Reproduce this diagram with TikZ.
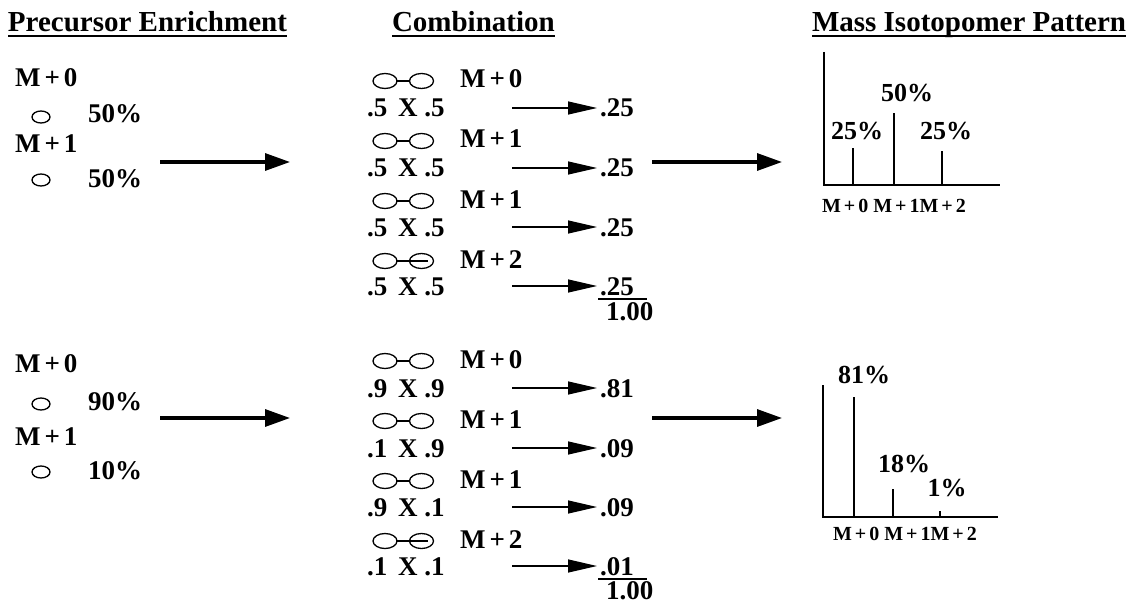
\documentclass[tikz,border=0pt]{standalone}
\usepackage{fontspec}
\setmainfont{Liberation Serif}
\usetikzlibrary{arrows.meta,shapes.geometric}

% "M + n" label with the spacing round the plus sign
\newcommand{\mplus}[1]{M\hspace{0.15em}+\hspace{0.15em}#1}

\begin{document}
\begin{tikzpicture}[x=1pt,y=-1pt,
  every node/.style={inner sep=0pt, outer sep=0pt, font=\bfseries\fontsize{27}{27}\selectfont},
  txt/.style={anchor=base west},
  heading/.style={anchor=base west, font=\bfseries\fontsize{29}{29}\selectfont},
  axlabel/.style={anchor=base west, font=\bfseries\fontsize{20}{20}\selectfont},
  pct/.style={anchor=base, font=\bfseries\fontsize{26}{26}\selectfont},
  atom/.style={shape=ellipse, draw, line width=1.3pt, minimum width=18pt, minimum height=12pt},
  unit/.style={shape=ellipse, draw, line width=1.3pt, minimum width=24pt, minimum height=15pt},
  bond/.style={line width=1.3pt},
  bigarrow/.style={line width=3.2pt, -{Triangle[length=25pt,width=17pt]}},
  smallarrow/.style={line width=1.3pt, -{Triangle[length=29pt,width=13pt]}},
  axis/.style={line width=1.8pt},
  bar/.style={line width=1.5pt},
  sumline/.style={line width=1.5pt},
  uline/.style={line width=2pt}
]
\useasboundingbox (0,0) rectangle (1131,604);

% ---------- headings ----------
\node[heading] (hA) at (8,32) {Precursor Enrichment};
\node[heading] (hB) at (392,32) {Combination};
\node[heading] (hC) at (812,32) {Mass Isotopomer Pattern};
\foreach \h in {hA,hB,hC}
  \draw[uline] ([yshift=-4pt]\h.base west) -- ([yshift=-4pt]\h.base east);

% ---------- precursor enrichment ----------
% upper case: 50 / 50
\node[txt] (pa0) at (15,87) {\mplus{0}};
\node[atom] (pa0e) at (41,117) {};
\node[txt] (pa0p) at (88,123) {50\%};
\node[txt] (pa1) at (15,153) {\mplus{1}};
\node[atom] (pa1e) at (41,180) {};
\node[txt] (pa1p) at (88,187) {50\%};
% lower case: 90 / 10
\node[txt] (pb0) at (15,372) {\mplus{0}};
\node[atom] (pb0e) at (41,404) {};
\node[txt] (pb0p) at (88,410) {90\%};
\node[txt] (pb1) at (15,445) {\mplus{1}};
\node[atom] (pb1e) at (41,472) {};
\node[txt] (pb1p) at (88,479) {10\%};

\coordinate (la1) at (160,162); \coordinate (la2) at (290,162);
\coordinate (lb1) at (160,418); \coordinate (lb2) at (290,418);
\draw[bigarrow] (la1) -- (la2);
\draw[bigarrow] (lb1) -- (lb2);

% ---------- combinations ----------
% prefix, y offset of the block, four factor pairs
\foreach \pre/\dy/\pa/\pb/\pc/\pd/\va/\vb/\vc/\vd in
  {ca/0/{.5}/{.5}/{.5}/{.5}/{.5}/{.5}/{.5}/{.5},
   cb/280/{.9}/{.1}/{.9}/{.1}/{.9}/{.9}/{.1}/{.1}}{
  \foreach \i/\m/\my/\ny/\fa/\fb in
    {1/0/88/117/\pa/\va, 2/1/148/177/\pb/\vb, 3/1/208/236/\pc/\vc, 4/2/268/295/\pd/\vd}{
    \node[unit] (\pre\i l) at (385,\my+\dy-7) {};
    \node[unit] (\pre\i r) at (421.5,\my+\dy-7) {};
    \node[txt] (\pre\i m) at (460,\my+\dy) {\mplus{\m}};
    \node[txt] (\pre\i x) at (367,\ny+\dy) {\fa\hspace{0.4em}X\hspace{0.25em}\fb};
    \coordinate (\pre\i s) at (512,\ny+\dy-9);
    \coordinate (\pre\i t) at (597,\ny+\dy-9);
    \draw[smallarrow] (\pre\i s) -- (\pre\i t);
  }
}
% bonds between the two units
\foreach \n in {ca1,ca2,ca3,cb1,cb2,cb3}
  \draw[bond] (\n l.east) -- (\n r.west);
\foreach \n in {ca4,cb4}
  \draw[bond] (\n l.east) -- ([xshift=6.5pt]\n r.center);

% products
\node[txt] (va1) at (600,117) {.25};
\node[txt] (va2) at (600,177) {.25};
\node[txt] (va3) at (600,236) {.25};
\node[txt] (va4) at (600,295) {.25};
\node[txt] (vb1) at (600,397) {.81};
\node[txt] (vb2) at (600,457) {.09};
\node[txt] (vb3) at (600,516) {.09};
\node[txt] (vb4) at (600,575) {.01};
\coordinate (sa1) at (598,299); \coordinate (sa2) at (647,299);
\coordinate (sb1) at (598,579); \coordinate (sb2) at (647,579);
\draw[sumline] (sa1) -- (sa2);
\draw[sumline] (sb1) -- (sb2);
\node[txt] (ta) at (606,320) {1.00};
\node[txt] (tb) at (606,599) {1.00};

\coordinate (ma1) at (652,162); \coordinate (ma2) at (782,162);
\coordinate (mb1) at (652,418); \coordinate (mb2) at (782,418);
\draw[bigarrow] (ma1) -- (ma2);
\draw[bigarrow] (mb1) -- (mb2);

% ---------- mass isotopomer patterns ----------
% upper pattern
\coordinate (ga0) at (824,185); \coordinate (gay) at (824,52); \coordinate (gax) at (1000,185);
\draw[axis] (gay) -- (ga0) -- (gax);
\coordinate (ga1b) at (853,185); \coordinate (ga1t) at (853,148);
\coordinate (ga2b) at (894,185); \coordinate (ga2t) at (894,113);
\coordinate (ga3b) at (942,185); \coordinate (ga3t) at (942,151);
\draw[bar] (ga1b) -- (ga1t);
\draw[bar] (ga2b) -- (ga2t);
\draw[bar] (ga3b) -- (ga3t);
\node[pct] (ga1p) at (857,140) {25\%};
\node[pct] (ga2p) at (907,102) {50\%};
\node[pct] (ga3p) at (946,140) {25\%};
\node[axlabel] (gal) at (822,212) {\mplus{0} \mplus{1}\mplus{2}};

% lower pattern
\coordinate (gb0) at (823,517); \coordinate (gby) at (823,385); \coordinate (gbx) at (998,517);
\draw[axis] (gby) -- (gb0) -- (gbx);
\coordinate (gb1b) at (854,517); \coordinate (gb1t) at (854,397);
\coordinate (gb2b) at (893,517); \coordinate (gb2t) at (893,489);
\coordinate (gb3b) at (940,517); \coordinate (gb3t) at (940,511);
\draw[bar] (gb1b) -- (gb1t);
\draw[bar] (gb2b) -- (gb2t);
\draw[bar] (gb3b) -- (gb3t);
\node[pct] (gb1p) at (864,383) {81\%};
\node[pct] (gb2p) at (904,472) {18\%};
\node[pct] (gb3p) at (947,496) {1\%};
\node[axlabel] (gbl) at (833,540) {\mplus{0} \mplus{1}\mplus{2}};
\end{tikzpicture}
\end{document}
